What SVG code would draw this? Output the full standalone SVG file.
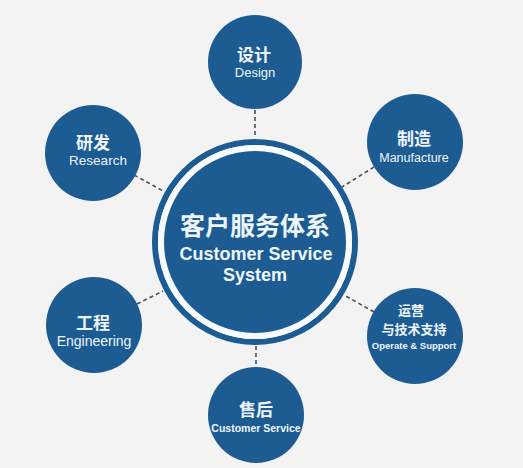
<svg xmlns="http://www.w3.org/2000/svg" width="523" height="468" viewBox="0 0 523 468">
<style>
.bg{fill:#f3f3f3}
.node{fill:#1c5c92}
.ring{fill:none;stroke:#1c5c92;stroke-width:6}
.gap{fill:none;stroke:#f8fbfd;stroke-width:6}
.conn line{stroke:#4a4f55;stroke-width:1.6;stroke-dasharray:4 3}
text{fill:#eef5fb;text-anchor:middle;font-family:"Liberation Sans","Noto Sans CJK SC",sans-serif}
.zh{font-family:"Noto Sans CJK SC","Liberation Sans",sans-serif;font-weight:bold}
.en{font-weight:bold}
</style>
<rect class="bg" x="0" y="0" width="523" height="468"/>
<g id="connectors" class="conn">
<line x1="255" y1="110" x2="255" y2="138"/>
<line x1="256" y1="346" x2="256" y2="367"/>
<line x1="134" y1="175" x2="165" y2="192"/>
<line x1="374" y1="167" x2="342" y2="187"/>
<line x1="137" y1="304" x2="163" y2="291"/>
<line x1="374" y1="312" x2="344" y2="295"/>
</g>
<g id="center">
<circle class="ring" cx="255" cy="242" r="100"/>
<circle class="gap" cx="255" cy="242" r="94"/>
<circle class="node" cx="255" cy="242" r="91"/>
<text class="zh" x="255" y="235" font-size="25">客户服务体系</text>
<text class="en" x="256" y="260" font-size="18">Customer Service</text>
<text class="en" x="255" y="281" font-size="18">System</text>
</g>
<g id="design">
<circle class="node" cx="255" cy="62" r="47"/>
<text class="zh" x="254" y="61" font-size="17">设计</text>
<text x="255" y="77" font-size="13">Design</text>
</g>
<g id="research">
<circle class="node" cx="93" cy="153" r="48"/>
<text class="zh" x="93" y="149" font-size="17">研发</text>
<text x="98" y="165" font-size="13.5">Research</text>
</g>
<g id="manufacture">
<circle class="node" cx="415" cy="142" r="48"/>
<text class="zh" x="414" y="145" font-size="17">制造</text>
<text x="414" y="162" font-size="12.5">Manufacture</text>
</g>
<g id="engineering">
<circle class="node" cx="94" cy="325" r="48"/>
<text class="zh" x="93" y="329" font-size="17">工程</text>
<text x="94" y="346" font-size="14">Engineering</text>
</g>
<g id="operate">
<circle class="node" cx="415" cy="336" r="48"/>
<text class="zh" x="411" y="315" font-size="13">运营</text>
<text class="zh" x="414" y="334" font-size="13">与技术支持</text>
<text class="en" x="414" y="349" font-size="9.5">Operate &amp; Support</text>
</g>
<g id="aftersales">
<circle class="node" cx="256" cy="415" r="48"/>
<text class="zh" x="256" y="416" font-size="17">售后</text>
<text class="en" x="256" y="432" font-size="10.5">Customer Service</text>
</g>
</svg>
